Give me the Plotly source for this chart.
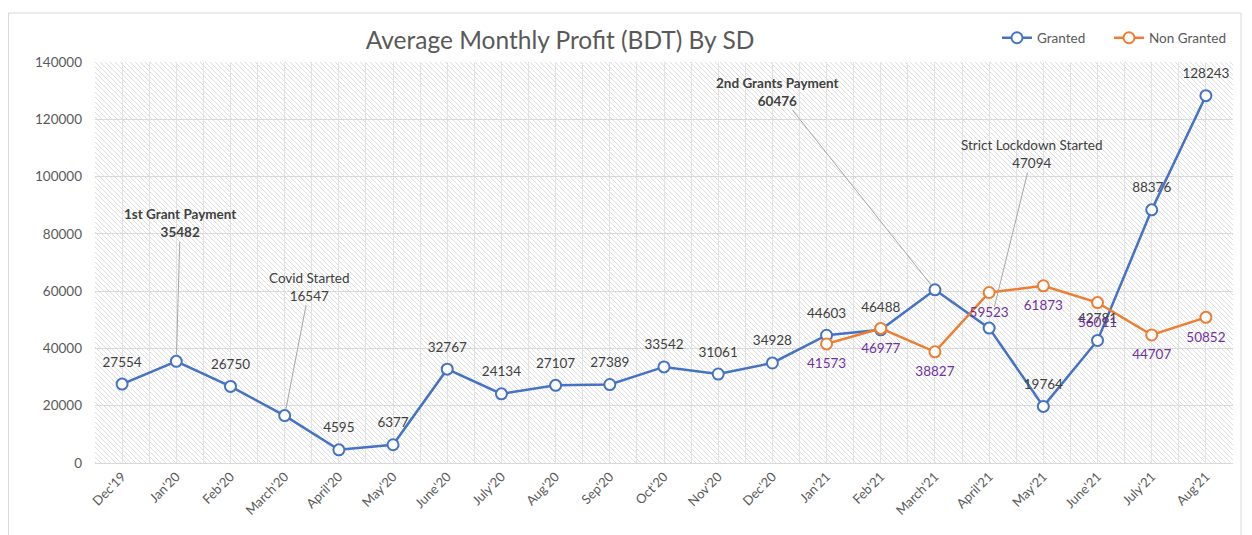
import base64
import plotly.graph_objects as go

# ---------------- data ----------------
months = ["Dec'19", "Jan'20", "Feb'20", "March'20", "April'20", "May'20", "June'20",
          "July'20", "Aug'20", "Sep'20", "Oct'20", "Nov'20", "Dec'20", "Jan'21",
          "Feb'21", "March'21", "April'21", "May'21", "June'21", "July'21", "Aug'21"]
granted = [27554, 35482, 26750, 16547, 4595, 6377, 32767, 24134, 27107, 27389, 33542,
           31061, 34928, 44603, 46488, 60476, 47094, 19764, 42781, 88376, 128243]
non_granted_months = ["Jan'21", "Feb'21", "March'21", "April'21", "May'21", "June'21",
                      "July'21", "Aug'21"]
non_granted = [41573, 46977, 38827, 59523, 61873, 56011, 44707, 50852]

callout_months = ["Jan'20", "March'20", "March'21", "April'21"]
callout_titles = ["1st Grant Payment", "Covid Started", "2nd Grants Payment", "Strict Lockdown Started"]
callout_bold = [True, False, True, False]
# ---------------------------------------

PAGE_OFF = 8  # default body margin of the html page
W, H = 1252 - PAGE_OFF, 535 - PAGE_OFF
ML, MR, MT, MB = 95 - PAGE_OFF, 19, 62 - PAGE_OFF, 72
PW, PH = W - ML - MR, H - MT - MB

x_g = [months.index(m) for m in months]
x_ng = [months.index(m) for m in non_granted_months]

BLUE = "#4472C4"
ORANGE = "#ED7D31"
GREY = "#595959"
FONT = "Lato"

g_text = ["" if m in callout_months else str(v) for m, v in zip(months, granted)]
ng_text = [str(v) for v in non_granted]

fig = go.Figure()
fig.add_trace(go.Scatter(
    x=x_g, y=granted, name="Granted", mode="lines+markers", legend="legend",
    line=dict(color=BLUE, width=2.5),
    marker=dict(symbol="circle", size=11, color="white", line=dict(color=BLUE, width=2)),
    cliponaxis=False,
))
fig.add_trace(go.Scatter(
    x=x_ng, y=non_granted, name="Non Granted", mode="lines+markers", legend="legend2",
    line=dict(color=ORANGE, width=2.5),
    marker=dict(symbol="circle", size=11, color="white", line=dict(color=ORANGE, width=2)),
    cliponaxis=False,
))
# data labels (invisible larger markers give the label offset)
fig.add_trace(go.Scatter(
    x=x_g, y=granted, mode="markers+text", showlegend=False, hoverinfo="skip",
    marker=dict(size=21, color="rgba(0,0,0,0)", line=dict(width=0)),
    text=g_text, textposition="top center",
    textfont=dict(family=FONT, size=13.5, color="#404040"), cliponaxis=False,
))
fig.add_trace(go.Scatter(
    x=x_ng, y=non_granted, mode="markers+text", showlegend=False, hoverinfo="skip",
    marker=dict(size=21, color="rgba(0,0,0,0)", line=dict(width=0)),
    text=ng_text, textposition="bottom center",
    textfont=dict(family=FONT, size=13.5, color="#7030A0"), cliponaxis=False,
))

# callouts with leader lines
offsets = [(4, -138), (25, -129), (-157, -198), (43, -174)]
standoffs = [6, 6, 6, 22]
for m, title, bold, (ax, ay), so in zip(callout_months, callout_titles, callout_bold, offsets, standoffs):
    i = months.index(m)
    v = granted[i]
    txt = f"<b>{title}</b><br><b>{v}</b>" if bold else f"{title}<br>{v}"
    fig.add_annotation(
        x=i, y=v, xref="x", yref="y", text=txt, showarrow=True, arrowhead=0,
        arrowwidth=1, arrowcolor="#a6a6a6", ax=ax, ay=ay, standoff=so,
        font=dict(family=FONT, size=13.5, color="#404040"), align="center",
    )

# hatched plot background
svg = (f'<svg xmlns="http://www.w3.org/2000/svg" width="{PW}" height="{PH}">'
       '<defs><pattern id="h" width="5" height="5" patternUnits="userSpaceOnUse">'
       '<path d="M-1,-1 L6,6 M-1,4 L1,6 M4,-1 L6,1" stroke="#dedede" stroke-width="1"/>'
       '</pattern></defs>'
       '<rect width="100%" height="100%" fill="#ffffff"/>'
       '<rect width="100%" height="100%" fill="url(#h)"/></svg>')
src = "data:image/svg+xml;base64," + base64.b64encode(svg.encode()).decode()
fig.add_layout_image(dict(source=src, xref="paper", yref="paper", x=0, y=1,
                          sizex=1, sizey=1, xanchor="left", yanchor="top",
                          sizing="stretch", layer="below"))


# helpers converting page pixels to paper coordinates
def px_x(p):
    return (p - PAGE_OFF - ML) / PW


def px_y(p):
    return (H - MB - (p - PAGE_OFF)) / PH


# outer chart border
fig.add_shape(type="rect", xref="paper", yref="paper",
              x0=px_x(8.5), x1=px_x(1241), y0=px_y(545), y1=px_y(13),
              line=dict(color="#d9d9d9", width=1), fillcolor="rgba(0,0,0,0)", layer="below")

legend_style = dict(orientation="h", xanchor="left", y=px_y(38), yanchor="middle",
                    font=dict(family=FONT, size=13.5, color=GREY),
                    bgcolor="rgba(0,0,0,0)", itemwidth=30)

fig.update_layout(
    width=W, height=H,
    margin=dict(l=ML, r=MR, t=MT, b=MB, autoexpand=False),
    paper_bgcolor="white", plot_bgcolor="white",
    font=dict(family=FONT, color=GREY, size=13),
    title=dict(text="Average Monthly Profit (BDT) By SD", x=px_x(560), xref="paper",
               xanchor="center", y=1 - (40 - PAGE_OFF) / H, yanchor="middle",
               font=dict(family=FONT, size=24.5, color=GREY)),
    legend=dict(x=px_x(997), **legend_style),
    legend2=dict(x=px_x(1109), **legend_style),
    showlegend=True,
)
fig.update_xaxes(
    range=[-0.5, len(months) - 0.5], tickmode="array", tickvals=x_g, ticktext=months,
    tickangle=-45, tickfont=dict(family=FONT, size=13, color=GREY),
    showgrid=True, gridcolor="#e2e2e2", gridwidth=1,
    minor=dict(tickmode="array", tickvals=[i + 0.5 for i in x_g[:-1]], showgrid=True,
               gridcolor="#e2e2e2", gridwidth=1),
    showline=True, linecolor="#d9d9d9", zeroline=False, ticks="", automargin=False,
)
fig.update_yaxes(
    range=[0, 140000], dtick=20000, tick0=0, tickformat="d", showgrid=True,
    gridcolor="#d9d9d9", gridwidth=1, zeroline=False,
    tickfont=dict(family=FONT, size=13.5, color=GREY),
    ticklabelstandoff=12, showline=False, ticks="", automargin=False,
)

fig.write_html("out.html")
